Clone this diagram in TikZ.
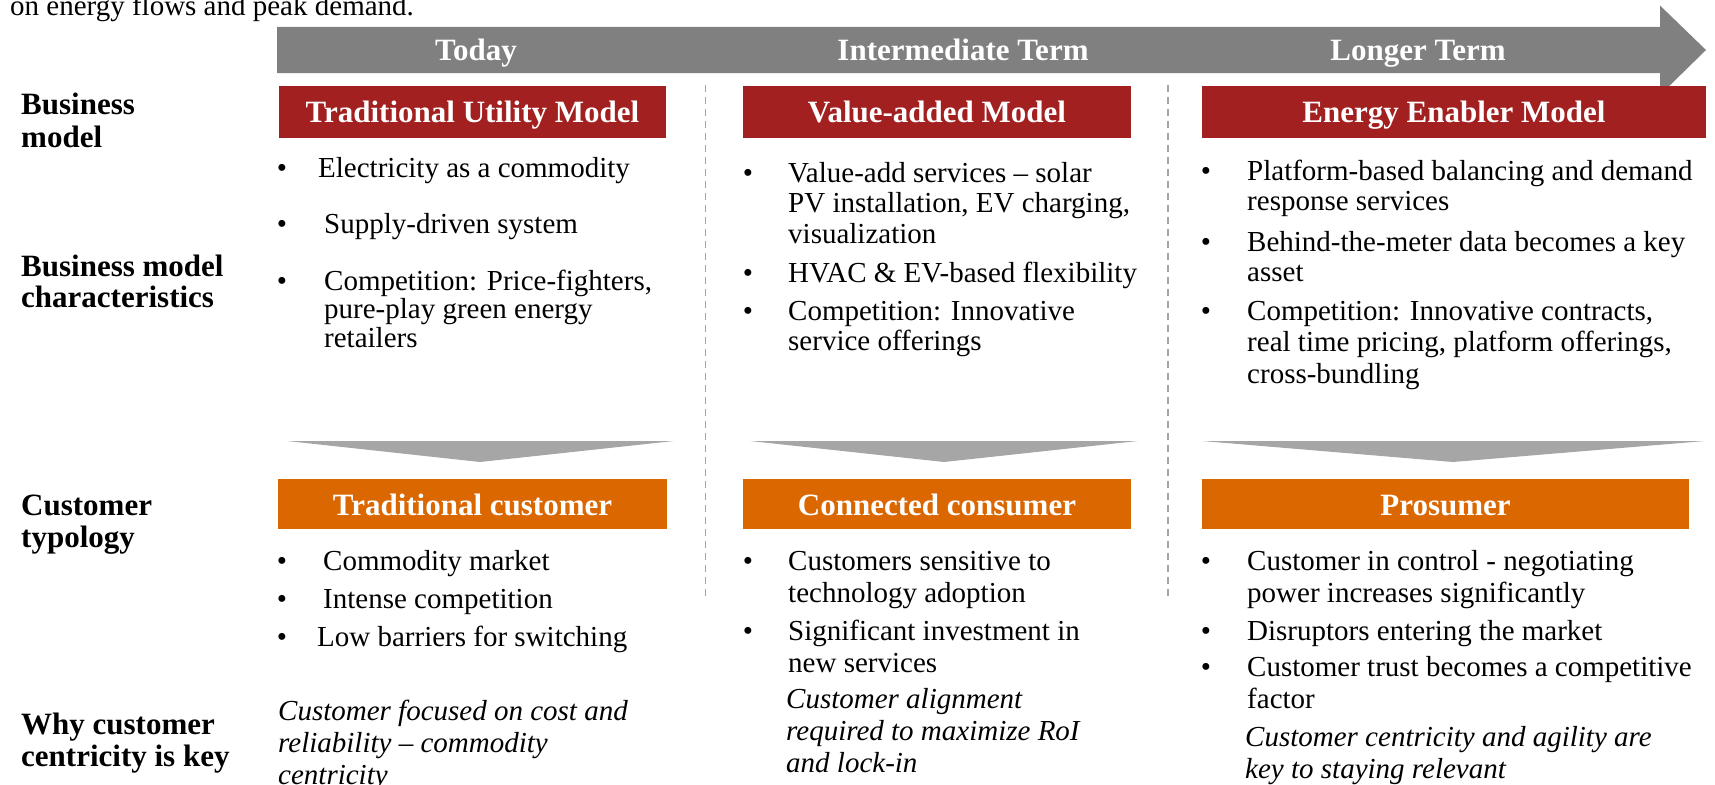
\documentclass[tikz,border=0pt]{standalone}
\usepackage{fontspec}
\setmainfont{Liberation Serif}
\usetikzlibrary{positioning}

\definecolor{pwcred}{HTML}{A32020}
\definecolor{pwcorange}{HTML}{DB6700}
\definecolor{arrowgray}{HTML}{808080}
\definecolor{chevgray}{HTML}{A6A6A6}
\definecolor{linegray}{HTML}{A5A5A5}

\newcommand{\bodyfont}{\fontsize{29}{30.5}\selectfont}
\newcommand{\lblfont}{\fontsize{31}{32.5}\selectfont\bfseries}
\newcommand{\boxfont}{\fontsize{31}{32}\selectfont\bfseries}
\newcommand{\notefont}{\fontsize{29}{32}\selectfont\itshape}

\begin{document}
\begin{tikzpicture}[x=1pt,y=-1pt]
  % multi-line nodes sit on the baseline of their last line
  \tikzstyle{lbl}=[anchor=base west,align=left,inner sep=0pt,font=\lblfont]
  \tikzstyle{item}=[anchor=base west,align=left,inner sep=0pt,font=\bodyfont]
  \tikzstyle{note}=[anchor=base west,align=left,inner sep=0pt,font=\notefont]
  \tikzstyle{dot}=[anchor=base,inner sep=0pt,font=\bodyfont]
  \tikzstyle{model}=[fill=pwcred,text=white,font=\boxfont,minimum height=52pt,inner sep=0pt,text height=24pt,text depth=3pt]
  \tikzstyle{cust}=[fill=pwcorange,text=white,font=\boxfont,minimum height=50pt,inner sep=0pt,text height=25pt,text depth=2pt]
  \tikzstyle{phase}=[text=white,font=\boxfont,inner sep=0pt,anchor=base]
  \tikzstyle{sep}=[draw=linegray,line width=1.5pt,dash pattern=on 7pt off 5pt]
  \useasboundingbox (0,0) rectangle (1715,784);

  \node[item] (lead) at (10,16) {on energy flows and peak demand.};

  % timeline arrow
  \fill[arrowgray] (277,27) -- (1660,27) -- (1660,5.5) -- (1706,50)
    -- (1660,95) -- (1660,73) -- (277,73) -- cycle;
  \node[phase] (today) at (476,61) {Today};
  \node[phase] (mid) at (963,61) {Intermediate Term};
  \node[phase] (long) at (1418,61) {Longer Term};

  % column separators
  \draw[sep] (705.5,85) -- (705.5,599);
  \draw[sep] (1168,85) -- (1168,599);

  % row labels
  \node[lbl,font=\fontsize{31}{33}\selectfont\bfseries] (l1) at (21,147) {Business\\model};
  \node[lbl,font=\fontsize{31}{31}\selectfont\bfseries] (l2) at (21,307) {Business model\\characteristics};
  \node[lbl] (l3) at (21,547.5) {Customer\\typology};
  \node[lbl] (l4) at (21,766.5) {Why customer\\centricity is key};

  % business models
  \node[model,minimum width=387pt] (m1) at (472.5,112) {Traditional Utility Model};
  \node[model,minimum width=388pt] (m2) at (937,112) {Value-added Model};
  \node[model,minimum width=504pt] (m3) at (1454,112) {Energy Enabler Model};

  \node[dot] (a1d) at (282,177) {\textbullet};
  \node[item] (a1) at (318,177) {Electricity as a commodity};
  \node[dot] (a2d) at (282,233) {\textbullet};
  \node[item] (a2) at (324,233) {Supply-driven system};
  \node[dot] (a3d) at (282,290) {\textbullet};
  \node[item,font=\fontsize{29}{28.5}\selectfont] (a3) at (324,347) {Competition: Price-fighters,\\pure-play green energy\\retailers};

  \node[dot] (b1d) at (748,182) {\textbullet};
  \node[item] (b1) at (788,243) {Value-add services -- solar\\PV installation, EV charging,\\visualization};
  \node[dot] (b2d) at (748,282) {\textbullet};
  \node[item] (b2) at (788,282) {HVAC \& EV-based flexibility};
  \node[dot] (b3d) at (748,320) {\textbullet};
  \node[item] (b3) at (788,350.5) {Competition: Innovative\\service offerings};

  \node[dot] (c1d) at (1206,180) {\textbullet};
  \node[item] (c1) at (1247,210.5) {Platform-based balancing and demand\\response services};
  \node[dot] (c2d) at (1206,251) {\textbullet};
  \node[item] (c2) at (1247,281.5) {Behind-the-meter data becomes a key\\asset};
  \node[dot] (c3d) at (1206,320) {\textbullet};
  \node[item,font=\fontsize{29}{31.5}\selectfont] (c3) at (1247,383) {Competition: Innovative contracts,\\real time pricing, platform offerings,\\cross-bundling};

  % chevrons down to the customer row
  \fill[chevgray] (287,441) -- (674,441) -- (480,462) -- cycle;
  \fill[chevgray] (750,441) -- (1138,441) -- (944,462) -- cycle;
  \fill[chevgray] (1202,441) -- (1705,441) -- (1453,462) -- cycle;

  % customer typology
  \node[cust,minimum width=389pt] (t1) at (472.5,504) {Traditional customer};
  \node[cust,minimum width=388pt] (t2) at (937,504) {Connected consumer};
  \node[cust,minimum width=487pt] (t3) at (1445.5,504) {Prosumer};

  \node[dot] (d1d) at (282,570) {\textbullet};
  \node[item] (d1) at (323,570) {Commodity market};
  \node[dot] (d2d) at (282,608) {\textbullet};
  \node[item] (d2) at (323,608) {Intense competition};
  \node[dot] (d3d) at (282,646) {\textbullet};
  \node[item] (d3) at (317,646) {Low barriers for switching};

  \node[dot] (e1d) at (748,570) {\textbullet};
  \node[item,font=\fontsize{29}{32}\selectfont] (e1) at (788,602) {Customers sensitive to\\technology adoption};
  \node[dot] (e2d) at (748,640) {\textbullet};
  \node[item,font=\fontsize{29}{32}\selectfont] (e2) at (788,672) {Significant investment in\\new services};

  \node[dot] (f1d) at (1206,570) {\textbullet};
  \node[item,font=\fontsize{29}{32}\selectfont] (f1) at (1247,602) {Customer in control - negotiating\\power increases significantly};
  \node[dot] (f2d) at (1206,640) {\textbullet};
  \node[item] (f2) at (1247,640) {Disruptors entering the market};
  \node[dot] (f3d) at (1206,676) {\textbullet};
  \node[item,font=\fontsize{29}{32}\selectfont] (f3) at (1247,708) {Customer trust becomes a competitive\\factor};

  % why it matters
  \node[note] (g1) at (278,784) {Customer focused on cost and\\reliability -- commodity\\centricity};
  \node[note] (g2) at (786,772) {Customer alignment\\required to maximize RoI\\and lock-in};
  \node[note] (g3) at (1245,778) {Customer centricity and agility are\\key to staying relevant};
\end{tikzpicture}
\end{document}
